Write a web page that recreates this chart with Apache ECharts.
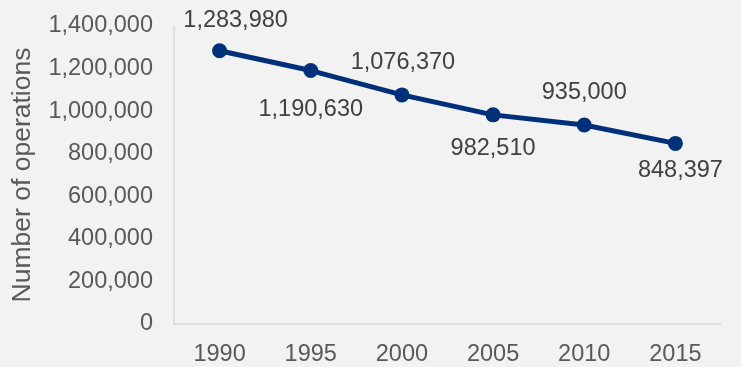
<!DOCTYPE html>
<html><head><meta charset="utf-8">
<script src="https://cdn.jsdelivr.net/npm/echarts@6/dist/echarts.min.js"></script>
<style>html,body{margin:0;padding:0;background:#f2f2f2;}#c{width:741px;height:367px;}</style>
</head><body><div id="c"></div>
<script>
const categories = ['1990','1995','2000','2005','2010','2015'];
const operations = [1283980, 1190630, 1076370, 982510, 935000, 848397];
const yTicks = [0, 200000, 400000, 600000, 800000, 1000000, 1200000, 1400000];

// label placement relative to each marker centre (style only)
const labelOffsets = [[16,-30],[0,39],[1,-32],[0,34],[0,-32],[5,27]];
const fmt = v => v.toLocaleString('en-US');
const chart = echarts.init(document.getElementById('c'));
chart.setOption({
  backgroundColor:'#f2f2f2',
  textStyle:{fontFamily:'Liberation Sans, Arial, sans-serif'},
  grid:{left:174, right:20, top:26, bottom:42, containLabel:false},
  xAxis:{type:'category', data:categories, boundaryGap:true,
    axisLine:{lineStyle:{color:'#d9d9d9', width:1.5}}, axisTick:{show:false},
    axisLabel:{color:'#595959', fontSize:23.5, margin:19}},
  yAxis:{type:'value', min:yTicks[0], max:yTicks[yTicks.length-1], interval:200000,
    name:'Number of operations', nameLocation:'middle', nameGap:138,
    nameTextStyle:{color:'#595959', fontSize:26.5},
    axisLine:{show:true, lineStyle:{color:'#d9d9d9', width:1.5}}, axisTick:{show:false},
    splitLine:{show:false},
    axisLabel:{color:'#595959', fontSize:23.5, margin:21, formatter:fmt}},
  series:[{type:'line',
    data:operations.map((v,i)=>({value:v, label:{offset:labelOffsets[i]}})),
    symbol:'circle', symbolSize:15,
    lineStyle:{color:'#00307a', width:5}, itemStyle:{color:'#00307a'},
    label:{show:true, position:'inside', color:'#404040', fontSize:23.5, formatter:p=>fmt(p.value)}}]
});
</script></body></html>
